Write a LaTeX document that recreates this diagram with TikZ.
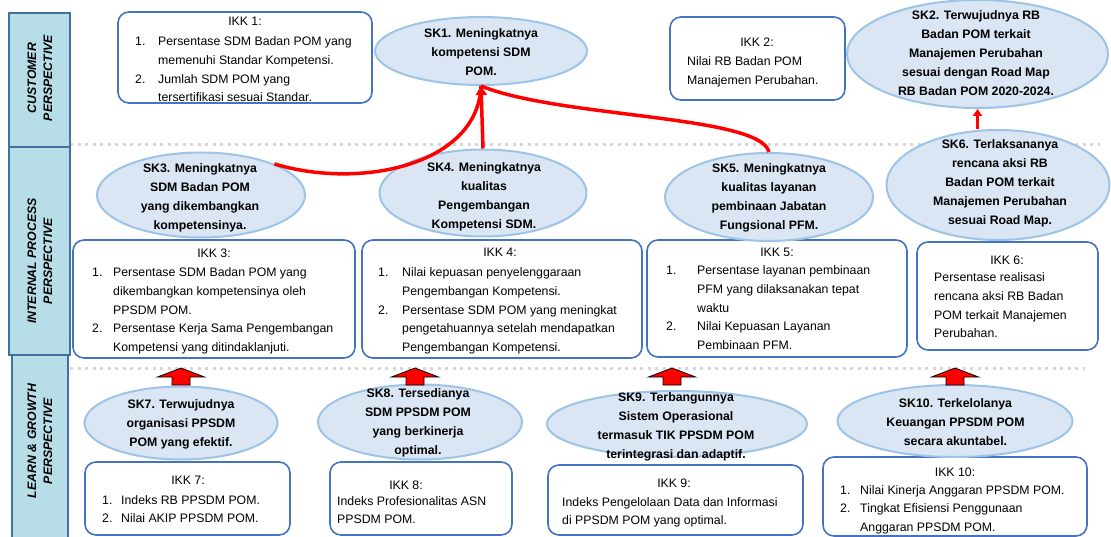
\documentclass[tikz,border=0pt]{standalone}
\usepackage{fontspec}
\setmainfont{Liberation Sans}
\usetikzlibrary{shapes.geometric,arrows.meta,calc}
\definecolor{boxblue}{HTML}{4472C4}
\definecolor{ellfill}{HTML}{DAE6F3}
\definecolor{ellline}{HTML}{9DC3E6}
\definecolor{perspfill}{HTML}{B7DEE8}
\definecolor{perspline}{HTML}{41719C}
\definecolor{dotgray}{HTML}{D6D6D6}
\definecolor{arrred}{HTML}{FF0000}
\begin{document}
\begin{tikzpicture}[x=1pt,y=-1pt,
  ikk/.style={draw=boxblue, line width=1.6pt, rounded corners=11pt, fill=white, inner sep=0pt},
  sk/.style={ellipse, draw=ellline, line width=2pt, fill=ellfill, inner sep=0pt},
  sktext/.style={font=\fontsize{12.3}{19}\selectfont\bfseries, align=center, inner sep=0pt},
  hdr/.style={font=\fontsize{12.3}{18.6}\selectfont, inner sep=0pt, anchor=base},
  body/.style={font=\fontsize{12.3}{18.6}\selectfont, inner sep=0pt, anchor=base west},
  persp/.style={draw=perspline, line width=2.5pt, fill=perspfill, inner sep=0pt},
  persptext/.style={font=\fontsize{12.3}{16}\selectfont\bfseries\itshape, align=center, rotate=90, inner sep=0pt},
  sepline/.style={dotgray, line width=3pt, dash pattern=on 3pt off 4.5pt},
  link/.style={arrred, line width=3.5pt},
  blockarrow/.style={fill=arrred, draw=black, line width=0.8pt, line join=miter}
]
\useasboundingbox (0,0) rectangle (1111,537);

% separators
\draw[sepline] (70,145) -- (1100,145);
\draw[sepline] (70,368) -- (1085,368);

% perspective column
\node[persp, minimum width=61pt, minimum height=134pt] (p1) at (39.5,80) {};
\node[persp, minimum width=61pt, minimum height=208pt] (p2) at (39.5,251) {};
\node[persp, minimum width=56pt, minimum height=190pt] (p3) at (40,450) {};
\node[persptext] (p1t) at (40,78) {CUSTOMER\\PERSPECTIVE};
\node[persptext] (p2t) at (40,261) {INTERNAL PROCESS\\PERSPECTIVE};
\node[persptext] (p3t) at (40,441) {LEARN \& GROWTH\\PERSPECTIVE};

% ---------- top row ----------
\node[ikk, minimum width=254pt, minimum height=91pt] (ikk1) at (245,57.5) {};
\node[hdr] (ikk1h) at (245,26) {IKK 1:};
\node[body] (ikk1b) at (135,46) {\begin{tabular}[t]{@{}p{23pt}@{}l@{}}
1. & Persentase SDM Badan POM yang\\
   & memenuhi Standar Kompetensi.\\
2. & Jumlah SDM POM yang\\
   & tersertifikasi sesuai Standar.\end{tabular}};

\node[sk, minimum width=212pt, minimum height=68pt] (sk1) at (481,51) {};
\node[sktext] (sk1t) at (481,52) {SK1. Meningkatnya\\kompetensi SDM\\POM.};

\node[ikk, minimum width=175pt, minimum height=83pt] (ikk2) at (757.5,58.5) {};
\node[hdr] (ikk2h) at (757,47) {IKK 2:};
\node[body] (ikk2b) at (687,66) {\begin{tabular}[t]{@{}l@{}}
Nilai RB Badan POM\\
Manajemen Perubahan.\end{tabular}};

\node[sk, minimum width=261pt, minimum height=108pt] (sk2) at (977.5,54) {};
\node[sktext] (sk2t) at (976,53) {SK2. Terwujudnya RB\\Badan POM terkait\\Manajemen Perubahan\\sesuai dengan Road Map\\RB Badan POM 2020-2024.};

% ---------- middle row ----------
\node[ikk, minimum width=282pt, minimum height=118pt] (ikk3) at (214,299) {};
\node[hdr] (ikk3h) at (214,258) {IKK 3:};
\node[body] (ikk3b) at (92,277) {\begin{tabular}[t]{@{}p{21pt}@{}l@{}}
1. & Persentase SDM Badan POM yang\\
   & dikembangkan kompetensinya oleh\\
   & PPSDM POM.\\
2. & Persentase Kerja Sama Pengembangan\\
   & Kompetensi yang ditindaklanjuti.\end{tabular}};

\node[ikk, minimum width=280pt, minimum height=118pt] (ikk4) at (502,299) {};
\node[hdr] (ikk4h) at (500,257) {IKK 4:};
\node[body] (ikk4b) at (378,277) {\begin{tabular}[t]{@{}p{24pt}@{}l@{}}
1. & Nilai kepuasan penyelenggaraan\\
   & Pengembangan Kompetensi.\\
2. & Persentase SDM POM yang meningkat\\
   & pengetahuannya setelah mendapatkan\\
   & Pengembangan Kompetensi.\end{tabular}};

\node[ikk, minimum width=260pt, minimum height=117pt] (ikk5) at (777,298.5) {};
\node[hdr] (ikk5h) at (777,257) {IKK 5:};
\node[body] (ikk5b) at (666,275) {\begin{tabular}[t]{@{}p{31pt}@{}l@{}}
1. & Persentase layanan pembinaan\\
   & PFM yang dilaksanakan tepat\\
   & waktu\\
2. & Nilai Kepuasan Layanan\\
   & Pembinaan PFM.\end{tabular}};

\node[ikk, minimum width=181pt, minimum height=108pt] (ikk6) at (1007.5,296) {};
\node[hdr] (ikk6h) at (1007,265) {IKK 6:};
\node[body] (ikk6b) at (934,282) {\begin{tabular}[t]{@{}l@{}}
Persentase realisasi\\
rencana aksi RB Badan\\
POM terkait Manajemen\\
Perubahan.\end{tabular}};

\node[sk, minimum width=208pt, minimum height=85pt] (sk3) at (201,195) {};
\node[sktext] (sk3t) at (200,198) {SK3. Meningkatnya\\SDM Badan POM\\yang dikembangkan\\kompetensinya.};

\node[sk, minimum width=207pt, minimum height=87pt] (sk4) at (483,193) {};
\node[sktext] (sk4t) at (484,197) {SK4. Meningkatnya\\kualitas\\Pengembangan\\Kompetensi SDM.};

\node[sk, minimum width=208pt, minimum height=88pt] (sk5) at (769,197) {};
\node[sktext] (sk5t) at (769,198) {SK5. Meningkatnya\\kualitas layanan\\pembinaan Jabatan\\Fungsional PFM.};

\node[sk, minimum width=223pt, minimum height=110pt] (sk6) at (998,185) {};
\node[sktext] (sk6t) at (1000,183) {SK6. Terlaksananya\\rencana aksi RB\\Badan POM terkait\\Manajemen Perubahan\\sesuai Road Map.};

% ---------- bottom row ----------
\node[ikk, minimum width=205pt, minimum height=73pt] (ikk7) at (187.5,498.5) {};
\node[hdr] (ikk7h) at (188,484) {IKK 7:};
\node[body] (ikk7b) at (102,504) {\begin{tabular}[t]{@{}p{19pt}@{}l@{}}
1. & Indeks RB PPSDM POM.\\
2. & Nilai AKIP PPSDM POM.\end{tabular}};

\node[ikk, minimum width=182pt, minimum height=73pt] (ikk8) at (421,498.5) {};
\node[hdr] (ikk8h) at (406,489) {IKK 8:};
\node[body] (ikk8b) at (337,505) {\begin{tabular}[t]{@{}l@{}}
Indeks Profesionalitas ASN\\
PPSDM POM.\end{tabular}};

\node[ikk, minimum width=255pt, minimum height=70pt] (ikk9) at (675.5,500) {};
\node[hdr] (ikk9h) at (674,487) {IKK 9:};
\node[body] (ikk9b) at (562,506) {\begin{tabular}[t]{@{}l@{}}
Indeks Pengelolaan Data dan Informasi\\
di PPSDM POM yang optimal.\end{tabular}};

\node[ikk, minimum width=264pt, minimum height=79pt] (ikk10) at (955,496.5) {};
\node[hdr] (ikk10h) at (955,476) {IKK 10:};
\node[body] (ikk10b) at (840,494) {\begin{tabular}[t]{@{}p{20pt}@{}l@{}}
1. & Nilai Kinerja Anggaran PPSDM POM.\\
2. & Tingkat Efisiensi Penggunaan\\
   & Anggaran PPSDM POM.\end{tabular}};

\node[sk, minimum width=193pt, minimum height=73pt] (sk7) at (181,423) {};
\node[sktext] (sk7t) at (181,424) {SK7. Terwujudnya\\organisasi PPSDM\\POM yang efektif.};

\node[sk, minimum width=204pt, minimum height=75pt] (sk8) at (420,422) {};
\node[sktext] (sk8t) at (418,423) {SK8. Tersedianya\\SDM PPSDM POM\\yang berkinerja\\optimal.};

\node[sk, minimum width=260pt, minimum height=66pt] (sk9) at (677,424) {};
\node[sktext] (sk9t) at (676,427) {SK9. Terbangunnya\\Sistem Operasional\\termasuk TIK PPSDM POM\\terintegrasi dan adaptif.};

\node[sk, minimum width=235pt, minimum height=72pt] (sk10) at (955,421) {};
\node[sktext] (sk10t) at (955.5,422) {SK10. Terkelolanya\\Keuangan PPSDM POM\\secara akuntabel.};

% block arrows
\foreach \ax in {181,415,672,955}{
  \draw[blockarrow] (\ax,368) -- (\ax+23.5,377) -- (\ax+9,377) -- (\ax+9,385)
    -- (\ax-9,385) -- (\ax-9,377) -- (\ax-23.5,377) -- cycle;
}

% red links
\draw[link] (sk3.23) .. controls (360,190) and (478,165) .. (sk1.south);
\draw[link] (sk5.north) .. controls (760,115) and (560,118) .. (sk1.south);
\draw[link, -{Triangle[length=9pt,width=11pt]}] (sk4.north) -- (sk1.south);
\draw[arrred, line width=3pt, -{Triangle[length=7pt,width=9pt]}] (sk2.south |- sk6.north) -- (sk2.south);

\end{tikzpicture}
\end{document}
